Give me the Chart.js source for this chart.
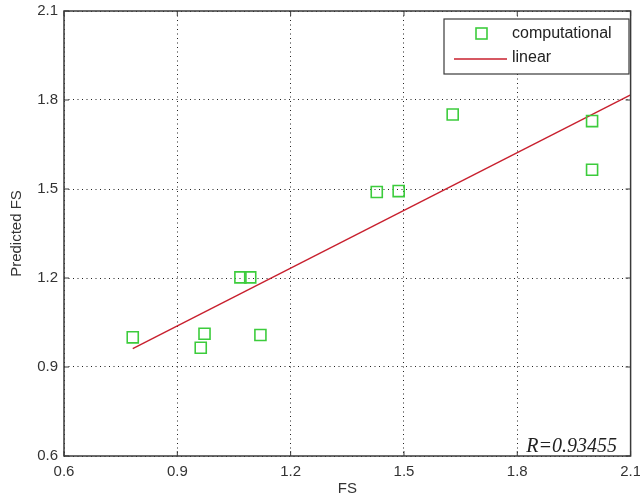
<!DOCTYPE html>
<html>
<head>
<meta charset="utf-8">
<script src="https://cdn.jsdelivr.net/npm/chart.js@4/dist/chart.umd.min.js"></script>
<style>
  html, body { margin: 0; padding: 0; background: #fff; }
  #wrap { width: 640px; height: 503px; }
</style>
</head>
<body>
<div id="wrap"><canvas id="grafico" width="640" height="503"></canvas></div>
<script>
// datos
const fsReal = [0.782, 0.962, 0.972, 1.067, 1.093, 1.120, 1.428, 1.486, 1.629, 1.998, 1.998];
const fsPredicho = [1.000, 0.965, 1.012, 1.202, 1.202, 1.008, 1.490, 1.493, 1.751, 1.729, 1.565];
const lineaX = [0.782, 2.1];
const lineaY = [0.962, 1.817];
const ticksX = [0.6, 0.9, 1.2, 1.5, 1.8, 2.1];
const ticksY = [0.6, 0.9, 1.2, 1.5, 1.8, 2.1];
const textoR = 'R=0.93455';

const fuente = "'Liberation Sans', Arial, sans-serif";

// caja, marcas internas, leyenda y texto R
const cajaPlugin = {
    id: 'caja',
    afterDraw(chart) {
        const ctx = chart.ctx;
        const a = chart.chartArea;
        const sx = chart.scales.x, sy = chart.scales.y;
        ctx.save();
        ctx.strokeStyle = '#3a3a3a';
        ctx.lineWidth = 1.5;
        ctx.strokeRect(a.left, a.top, a.right - a.left, a.bottom - a.top);
        ctx.lineWidth = 1;
        ctx.beginPath();
        ticksX.forEach(v => {
            const x = sx.getPixelForValue(v);
            ctx.moveTo(x, a.bottom); ctx.lineTo(x, a.bottom - 5);
            ctx.moveTo(x, a.top); ctx.lineTo(x, a.top + 5);
        });
        ticksY.forEach(v => {
            const y = sy.getPixelForValue(v);
            ctx.moveTo(a.left, y); ctx.lineTo(a.left + 5, y);
            ctx.moveTo(a.right, y); ctx.lineTo(a.right - 5, y);
        });
        ctx.stroke();

        // leyenda
        const ds = chart.data.datasets;
        const lx = 444, ly = 19, lw = 185, lh = 55;
        ctx.fillStyle = '#fff';
        ctx.fillRect(lx, ly, lw, lh);
        ctx.strokeStyle = '#3a3a3a';
        ctx.lineWidth = 1.2;
        ctx.strokeRect(lx, ly, lw, lh);
        ctx.strokeStyle = ds[0].borderColor;
        ctx.lineWidth = 1.6;
        ctx.strokeRect(476, 28, 11, 11);
        ctx.strokeStyle = ds[1].borderColor;
        ctx.lineWidth = 1.3;
        ctx.beginPath();
        ctx.moveTo(454, 59); ctx.lineTo(507, 59);
        ctx.stroke();
        ctx.fillStyle = '#222';
        ctx.font = '16px ' + fuente;
        ctx.textBaseline = 'middle';
        ctx.textAlign = 'left';
        ctx.fillText(ds[0].label, 512, 34);
        ctx.fillText(ds[1].label, 512, 58);

        // coeficiente R
        ctx.font = "italic 20px 'Liberation Serif', 'Times New Roman', serif";
        ctx.textAlign = 'right';
        ctx.textBaseline = 'alphabetic';
        ctx.fillStyle = '#222';
        ctx.fillText(textoR, 617, 452);
        ctx.restore();
    }
};

const ctx = document.getElementById('grafico').getContext('2d');

new Chart(ctx, {
    type: 'scatter',
    data: {
        datasets: [{
            label: 'computational',
            data: fsReal.map((x, i) => ({ x: x, y: fsPredicho[i] })),
            pointStyle: 'rect',
            pointRadius: 7.8,
            pointHoverRadius: 7.8,
            borderColor: '#3ccc3c',
            backgroundColor: 'rgba(0,0,0,0)',
            borderWidth: 1.6
        }, {
            label: 'linear',
            type: 'line',
            data: lineaX.map((x, i) => ({ x: x, y: lineaY[i] })),
            borderColor: '#c8202e',
            borderWidth: 1.4,
            pointRadius: 0,
            fill: false
        }]
    },
    options: {
        responsive: false,
        animation: false,
        layout: { padding: { top: 11, right: 0, left: 0, bottom: 0 } },
        plugins: {
            legend: { display: false },
            tooltip: { enabled: false }
        },
        scales: {
            x: {
                type: 'linear',
                min: 0.6,
                max: 2.1,
                afterBuildTicks: s => { s.ticks = ticksX.map(v => ({ value: v })); },
                afterFit: s => { s.height = 47; s.paddingRight = 8; s.paddingLeft = 0; },
                grid: { color: '#222', lineWidth: 1, drawTicks: false },
                border: { display: false, dash: [1, 3.5] },
                ticks: {
                    color: '#333',
                    font: { family: fuente, size: 15 },
                    padding: 7,
                    maxRotation: 0,
                    callback: v => v.toFixed(1)
                },
                title: {
                    display: true,
                    text: 'FS',
                    color: '#333',
                    font: { family: fuente, size: 15 },
                    padding: { top: 4, bottom: 5 }
                }
            },
            y: {
                type: 'linear',
                min: 0.6,
                max: 2.1,
                afterBuildTicks: s => { s.ticks = ticksY.map(v => ({ value: v })); },
                afterFit: s => { s.width = 64; s.paddingTop = 0; s.paddingBottom = 0; },
                grid: { color: '#222', lineWidth: 1, drawTicks: false },
                border: { display: false, dash: [1, 3.5] },
                ticks: {
                    color: '#333',
                    font: { family: fuente, size: 15 },
                    padding: 6,
                    callback: v => v.toFixed(1)
                },
                title: {
                    display: true,
                    text: 'Predicted FS',
                    color: '#333',
                    font: { family: fuente, size: 15 },
                    padding: { top: 8, bottom: 4 }
                }
            }
        }
    },
    plugins: [cajaPlugin]
});
</script>
</body>
</html>
